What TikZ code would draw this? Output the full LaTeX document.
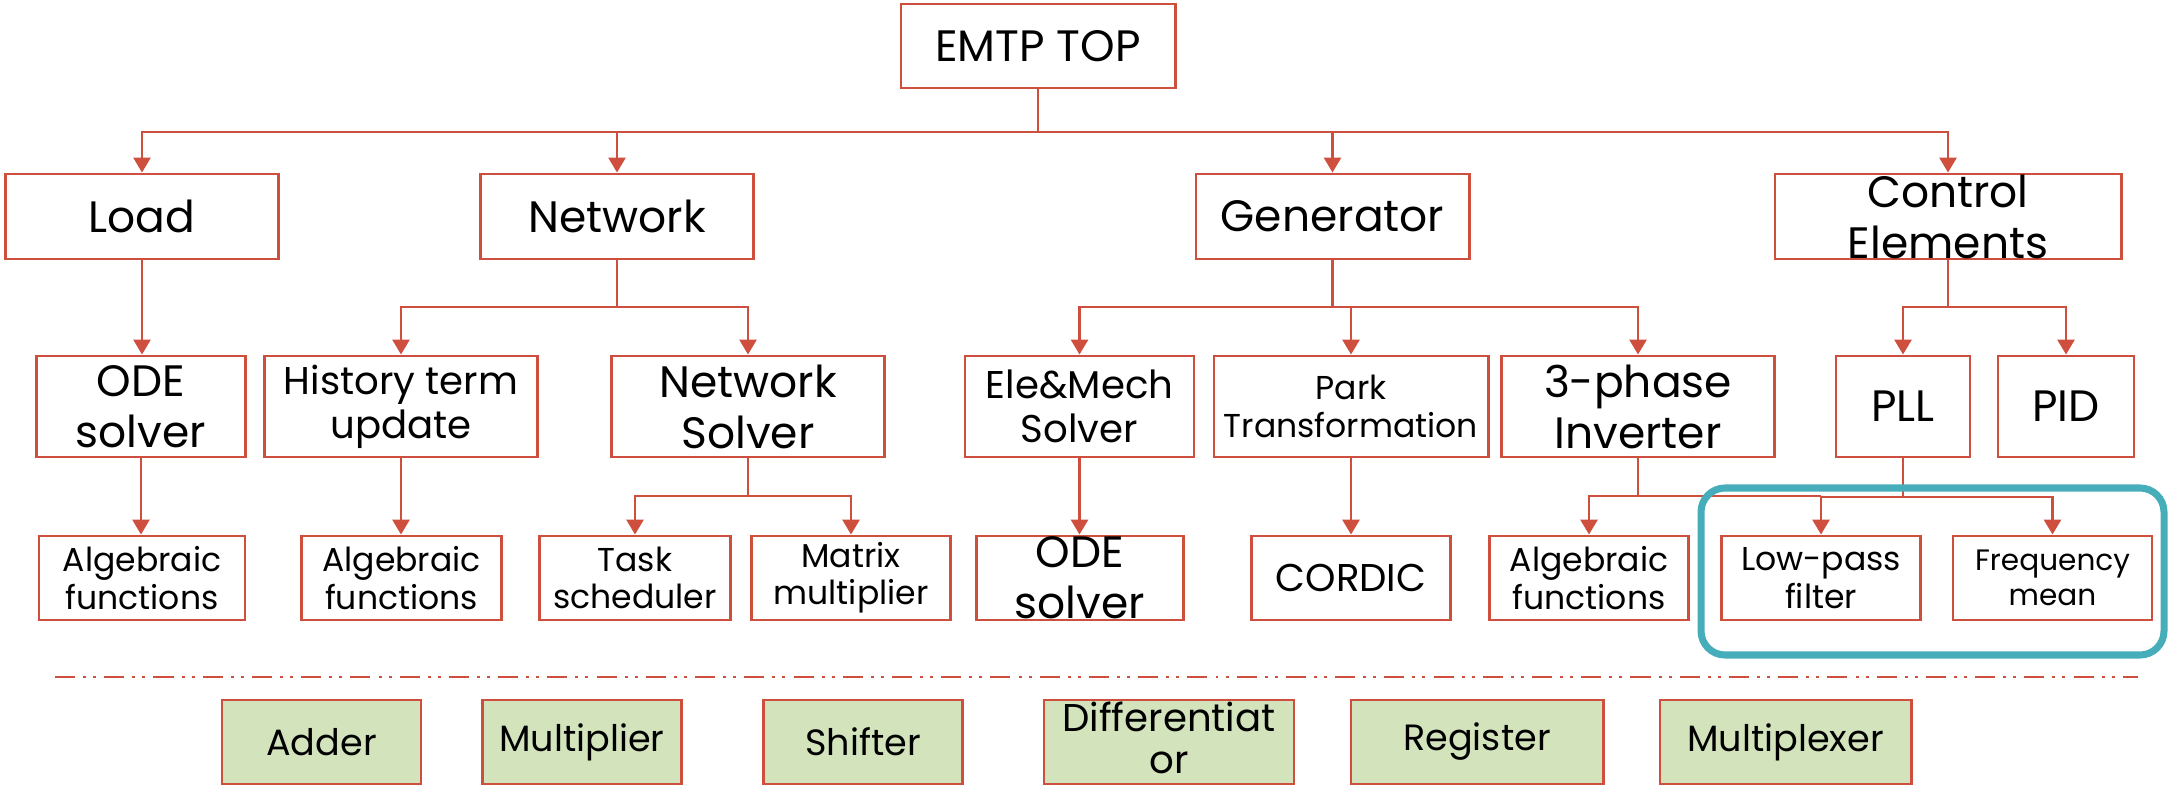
\documentclass[tikz,border=0pt]{standalone}
\usepackage{fontspec}
\setmainfont{Poppins}
\usetikzlibrary{arrows.meta}

\definecolor{linered}{HTML}{CF4F3F}
\definecolor{boxgreen}{HTML}{D3E3BC}
\definecolor{groupteal}{HTML}{46ADBA}

% font sizes used for the box texts
\newcommand\fszBig{\fontsize{12.5}{14.5}\selectfont}
\newcommand\fszMid{\fontsize{11}{12.5}\selectfont}
\newcommand\fszDiff{\fontsize{11}{12}\selectfont}
\newcommand\fszPark{\fontsize{9.4}{11}\selectfont}
\newcommand\fszSmall{\fontsize{9.4}{10.6}\selectfont}
\newcommand\fszTiny{\fontsize{8.4}{10}\selectfont}
\newcommand\fszPrim{\fontsize{10.4}{12.5}\selectfont}

\tikzset{
  rbox/.style={draw=linered, line width=0.8pt, fill=white, inner sep=0pt},
  gbox/.style={rbox, fill=boxgreen},
  conn/.style={draw=linered, line width=0.8pt},
  arr/.style={conn, -{Triangle[length=0.15cm,width=0.17cm]}},
  txt/.style={align=center, text=black, inner sep=0pt},
}

\begin{document}
\begin{tikzpicture}[x=0.01cm, y=-0.01cm]
\useasboundingbox (0,0) rectangle (2170,785);

% ---- top level
\node[rbox, minimum width=2.74cm, minimum height=0.84cm,
      label={[txt,font=\fszBig]center:EMTP TOP}] (top) at (1038,46) {};

% ---- first level
\node[rbox, minimum width=2.73cm, minimum height=0.85cm,
      label={[txt,font=\fszBig]center:Load}] (load) at (142,216.5) {};
\node[rbox, minimum width=2.73cm, minimum height=0.85cm,
      label={[txt,font=\fszBig]center:Network}] (net) at (617,216.5) {};
\node[rbox, minimum width=2.73cm, minimum height=0.85cm,
      label={[txt,font=\fszBig]center:Generator}] (gen) at (1332.5,216.5) {};
\node[rbox, minimum width=3.46cm, minimum height=0.85cm,
      label={[txt,font=\fszBig]center:Control\\Elements}] (ctrl) at (1948,216.5) {};

% ---- second level
\node[rbox, minimum width=2.085cm, minimum height=1.01cm,
      label={[txt,font=\fszBig]center:ODE\\solver}] (odeA) at (141,406.5) {};
\node[rbox, minimum width=2.725cm, minimum height=1.01cm,
      label={[txt,font=\fszMid]center:History term\\update}] (hist) at (401,406.5) {};
\node[rbox, minimum width=2.73cm, minimum height=1.01cm,
      label={[txt,font=\fszBig]center:Network\\Solver}] (nsolv) at (748,406.5) {};
\node[rbox, minimum width=2.29cm, minimum height=1.01cm,
      label={[txt,font=\fszMid]center:Ele\&Mech\\Solver}] (elem) at (1079.5,406.5) {};
\node[rbox, minimum width=2.74cm, minimum height=1.01cm,
      label={[txt,font=\fszPark]center:Park\\Transformation}] (park) at (1351,406.5) {};
\node[rbox, minimum width=2.725cm, minimum height=1.01cm,
      label={[txt,font=\fszBig]center:3-phase\\Inverter}] (inv) at (1638,406.5) {};
\node[rbox, minimum width=1.34cm, minimum height=1.01cm,
      label={[txt,font=\fszBig]center:PLL}] (pll) at (1903,406.5) {};
\node[rbox, minimum width=1.36cm, minimum height=1.01cm,
      label={[txt,font=\fszBig]center:PID}] (pid) at (2066,406.5) {};

% ---- third level
\node[rbox, minimum width=2.06cm, minimum height=0.84cm,
      label={[txt,font=\fszSmall]center:Algebraic\\functions}] (algA) at (142,578) {};
\node[rbox, minimum width=2.00cm, minimum height=0.84cm,
      label={[txt,font=\fszSmall]center:Algebraic\\functions}] (algB) at (401.6,578) {};
\node[rbox, minimum width=1.915cm, minimum height=0.84cm,
      label={[txt,font=\fszSmall]center:Task\\scheduler}] (task) at (635,578) {};
\node[rbox, minimum width=1.995cm, minimum height=0.84cm,
      label={[txt,font=\fszSmall]center:Matrix\\multiplier}] (matm) at (851,578) {};
\node[rbox, minimum width=2.075cm, minimum height=0.84cm,
      label={[txt,font=\fszBig]center:ODE\\solver}] (odeB) at (1080,578) {};
\node[rbox, minimum width=1.985cm, minimum height=0.84cm,
      label={[txt,font=\fszMid]center:CORDIC}] (cordic) at (1351,578) {};
\node[rbox, minimum width=1.985cm, minimum height=0.84cm,
      label={[txt,font=\fszSmall]center:Algebraic\\functions}] (algC) at (1589,578) {};
\node[rbox, minimum width=1.995cm, minimum height=0.84cm,
      label={[txt,font=\fszSmall]center:Low-pass\\filter}] (lpf) at (1821,578) {};
\node[rbox, minimum width=1.99cm, minimum height=0.84cm,
      label={[txt,font=\fszTiny]center:Frequency\\mean}] (fmean) at (2052.5,578) {};

% ---- primitive blocks
\node[gbox, minimum width=1.99cm, minimum height=0.84cm,
      label={[txt,font=\fszPrim]center:Adder}] (adder) at (321.5,742) {};
\node[gbox, minimum width=1.995cm, minimum height=0.84cm,
      label={[txt,font=\fszPrim]center:Multiplier}] (mult) at (582,742) {};
\node[gbox, minimum width=1.995cm, minimum height=0.84cm,
      label={[txt,font=\fszPrim]center:Shifter}] (shift) at (863,742) {};
\node[gbox, minimum width=2.50cm, minimum height=0.84cm,
      label={[txt,font=\fszDiff,yshift=0.04cm]center:Differentiat\\or}] (diff) at (1169,742) {};
\node[gbox, minimum width=2.52cm, minimum height=0.84cm,
      label={[txt,font=\fszPrim]center:Register}] (reg) at (1477,742) {};
\node[gbox, minimum width=2.51cm, minimum height=0.84cm,
      label={[txt,font=\fszPrim]center:Multiplexer}] (mux) at (1785.5,742) {};

% ---- bus junctions
\coordinate (busTop) at (1038,132);
\coordinate (busNet) at (617,307);
\coordinate (busGen) at (1332.5,307);
\coordinate (busCtrl) at (1948,307);
\coordinate (busNs) at (748,496);
\coordinate (busInv) at (1638,496);
\coordinate (busInvEnd) at (1821,496);
\coordinate (busPll) at (1903,497);

% ---- connectors, top level
\draw[conn] (top.south) -- (busTop);
\foreach \c in {load,net,gen,ctrl}
  \draw[arr] (busTop) -| (\c.north);

% ---- connectors, first to second level
\draw[arr] (load.south) -- (load.south |- odeA.north);
\draw[conn] (net.south) -- (busNet);
\draw[arr] (busNet) -| (hist.north);
\draw[arr] (busNet) -| (nsolv.north);
\draw[conn] (gen.south) -- (busGen);
\draw[arr] (busGen) -| (elem.north);
\draw[arr] (busGen) -| (park.north);
\draw[arr] (busGen) -| (inv.north);
\draw[conn] (ctrl.south) -- (busCtrl);
\draw[arr] (busCtrl) -| (pll.north);
\draw[arr] (busCtrl) -| (pid.north);

% ---- connectors, second to third level
\draw[arr] (odeA.south) -- (odeA.south |- algA.north);
\draw[arr] (hist.south) -- (hist.south |- algB.north);
\draw[conn] (nsolv.south) -- (busNs);
\draw[arr] (busNs) -| (task.north);
\draw[arr] (busNs) -| (matm.north);
\draw[arr] (elem.south) -- (elem.south |- odeB.north);
\draw[arr] (park.south) -- (park.south |- cordic.north);
\draw[conn] (inv.south) -- (busInv);
\draw[arr] (busInv) -| (algC.north);
\draw[conn] (busInv) -- (busInvEnd);
\draw[conn] (pll.south) -- (busPll);
\draw[arr] (busPll) -| (lpf.north);
\draw[arr] (busPll) -| (fmean.north);

% ---- separator between model tree and primitive blocks
\coordinate (sepL) at (55,677);
\coordinate (sepR) at (2138,677);
\draw[conn, dash pattern=on 5.7pt off 2.3pt on 0.85pt off 2pt on 0.85pt off 2.3pt]
  (sepL) -- (sepR);

% ---- highlighted PLL sub-blocks
\coordinate (grpA) at (1701,488);
\coordinate (grpB) at (2164,655);
\draw[groupteal, line width=2pt, rounded corners=0.24cm] (grpA) rectangle (grpB);

\end{tikzpicture}
\end{document}
